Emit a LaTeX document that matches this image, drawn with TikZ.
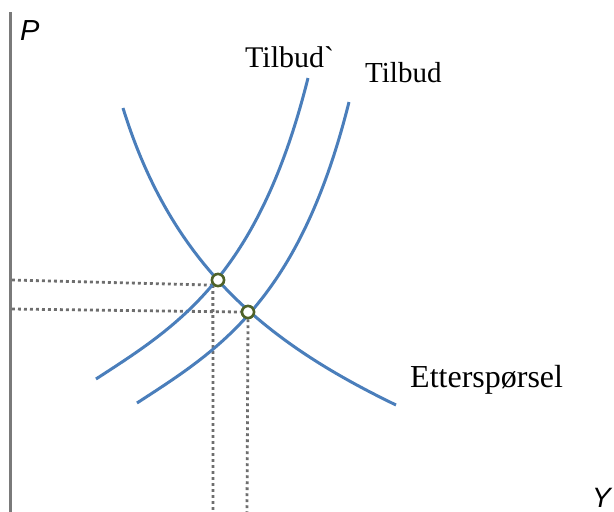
\documentclass[tikz,border=0pt]{standalone}
\usepackage{fontspec}
\setmainfont{Liberation Serif}
\newfontfamily\rawserif{Liberation Serif}[Ligatures=TeXOff]
\newfontfamily\arialf{Liberation Sans}
\definecolor{curveblue}{HTML}{4A7EBB}
\definecolor{ringgreen}{HTML}{4F6228}
\definecolor{axisgray}{HTML}{7A7A7A}
\definecolor{dotgray}{HTML}{6E6E6E}
\begin{document}
\begin{tikzpicture}[x=1pt,y=-1pt,
  curve/.style={curveblue, line width=3pt},
  guide/.style={dotgray, line width=2.8pt, dash pattern=on 2.8pt off 3.2pt},
  axisline/.style={axisgray, line width=3pt},
  ring/.style={circle, draw=ringgreen, fill=white, line width=2.5pt, minimum size=12pt, inner sep=0pt},
  lab/.style={inner sep=0pt, anchor=base west},
]
\useasboundingbox (0,0) rectangle (614,512);
% axis
\coordinate (axtop) at (10,12);
\coordinate (axbot) at (10,512);
\draw[axisline] (axtop) -- (axbot);
% equilibrium points
\node[ring] (e1) at (218,280) {};
\node[ring] (e2) at (248,312) {};
% guides
\coordinate (h1) at (12,280);
\coordinate (h2) at (12,309);
\coordinate (b1) at (213,512);
\coordinate (b2) at (247,512);
\draw[guide] (h1) -- (e1.south west);
\draw[guide] (h2) -- (e2.west);
\draw[guide] (e1.south west) -- (b1);
\draw[guide] (e2.south) -- (b2);
% curves
\draw[curve] (123,108) .. controls (173,270) and (272,345) .. (396,405);
\draw[curve] (96,379) .. controls (176,327) and (258,278) .. (308,78);
\draw[curve] (137,403) .. controls (217,351) and (299,302) .. (349,102);
% redraw rings on top
\node[ring] at (e1) {};
\node[ring] at (e2) {};
% labels
\node[lab] (lP) at (20,40) {\arialf\itshape\fontsize{29}{31}\selectfont P};
\node[lab] (lY) at (592,507) {\arialf\itshape\fontsize{28}{30}\selectfont Y};
\node[lab] (lT2) at (245,67) {\rawserif\fontsize{30}{32}\selectfont Tilbud`};
\node[lab] (lT) at (365,82) {\fontsize{29}{31}\selectfont Tilbud};
\node[lab] (lE) at (410,387) {\fontsize{32}{34}\selectfont Etterspørsel};
\end{tikzpicture}
\end{document}
